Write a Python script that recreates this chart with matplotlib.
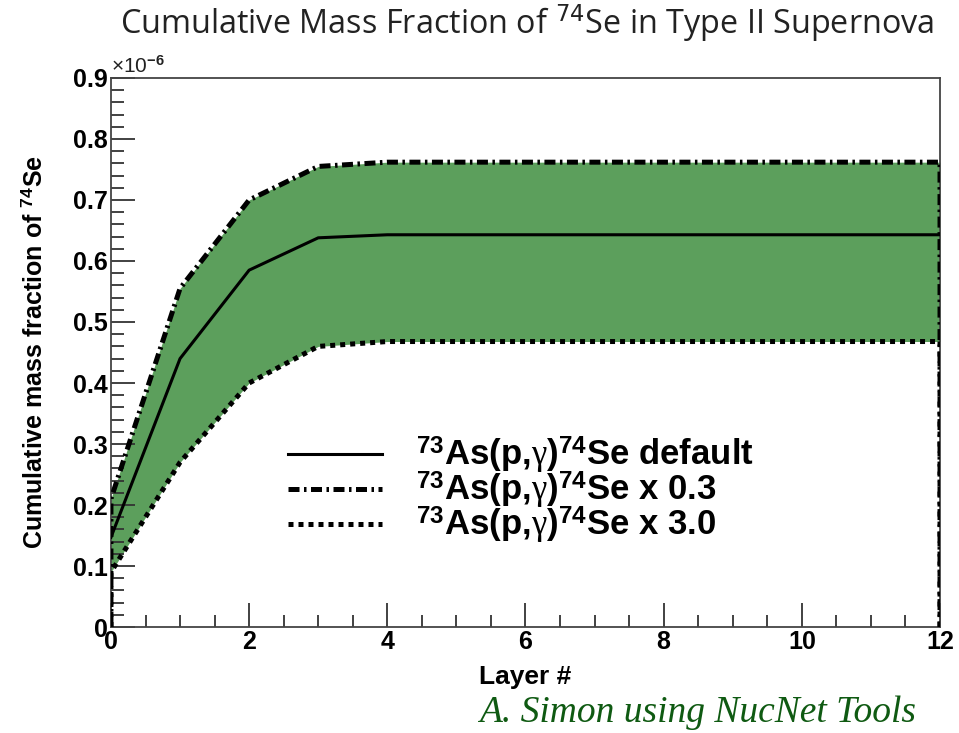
import matplotlib.pyplot as plt
from matplotlib.ticker import MultipleLocator, FuncFormatter

plt.rcParams['mathtext.fontset'] = 'custom'
plt.rcParams['mathtext.rm'] = 'Liberation Sans:bold'
plt.rcParams['mathtext.bf'] = 'Liberation Sans:bold'
plt.rcParams['mathtext.it'] = 'Liberation Serif'

# Data (in units of 1e-6)
layers = [0, 1, 2, 3, 4, 5, 6, 7, 8, 9, 10, 11, 12]
default = [0.147, 0.44, 0.585, 0.638, 0.643, 0.643, 0.643, 0.643, 0.643, 0.643, 0.643, 0.643, 0.643]
low_rate = [0.21, 0.555, 0.70, 0.755, 0.762, 0.762, 0.762, 0.762, 0.762, 0.762, 0.762, 0.762, 0.762]
high_rate = [0.09, 0.27, 0.40, 0.46, 0.468, 0.468, 0.468, 0.468, 0.468, 0.468, 0.468, 0.468, 0.468]

fig = plt.figure(figsize=(9.59, 7.33), dpi=100)
ax = fig.add_axes([0.1157, 0.1446, 0.8645, 0.749])

green = '#5c9f5c'
ax.fill_between(layers, high_rate, low_rate, color=green, lw=0, zorder=1)

# closed bound curves (ROOT style, go down to zero at ends)
xs = [0] + layers + [12]
ax.plot(xs, [0] + low_rate + [0], color='black', lw=3.6,
        dashes=(2.2, 0.9, 0.5, 0.9), label=r'$^{73}$As(p,$\gamma$)$^{74}$Se x 0.3', zorder=3)
ax.plot(xs, [0] + high_rate + [0], color='black', lw=3.6,
        dashes=(1.0, 1.0), label=r'$^{73}$As(p,$\gamma$)$^{74}$Se x 3.0', zorder=3)
ax.plot(layers, default, color='black', lw=2.2,
        label=r'$^{73}$As(p,$\gamma$)$^{74}$Se default', zorder=4)

ax.set_xlim(0, 12)
ax.set_ylim(0, 0.9)
ax.xaxis.set_major_locator(MultipleLocator(2))
ax.xaxis.set_minor_locator(MultipleLocator(0.5))
ax.yaxis.set_major_locator(MultipleLocator(0.1))
ax.yaxis.set_minor_locator(MultipleLocator(0.02))
ax.xaxis.set_major_formatter(FuncFormatter(lambda v, p: '%d' % round(v)))
ax.yaxis.set_major_formatter(FuncFormatter(lambda v, p: '0' if abs(v) < 1e-9 else '%.1f' % v))
ax.tick_params(which='both', direction='in', top=False, right=False, width=1.3, color='#333333')
ax.tick_params(which='major', length=17)
ax.tick_params(which='minor', length=9)
ax.tick_params(axis='both', labelsize=18, pad=2)
for lab in ax.get_xticklabels() + ax.get_yticklabels():
    lab.set_fontweight('bold')
    lab.set_family('Liberation Sans')
for sp in ax.spines.values():
    sp.set_color('#444444')
    sp.set_linewidth(1.3)

ax.set_xlabel('Layer #', fontsize=19, fontweight='bold', family='Liberation Sans', labelpad=8)
ax.set_ylabel(r'Cumulative mass fraction of $^{74}$Se', fontsize=18, fontweight='bold',
              family='Liberation Sans', labelpad=19)
ax.text(0.0, 1.003, r'×10$^{-6}$', transform=ax.transAxes, fontsize=15,
        family='Liberation Sans', va='bottom', ha='left', color='#222222')

handles, labels = ax.get_legend_handles_labels()
order = [2, 0, 1]
leg = ax.legend([handles[i] for i in order], [labels[i] for i in order],
                loc='upper left', bbox_to_anchor=(0.2135, 0.35), frameon=False,
                borderpad=0, borderaxespad=0,
                prop={'family': 'Liberation Sans', 'weight': 'bold', 'size': 25},
                handlelength=2.7, handletextpad=1.0, labelspacing=-0.17)

fig.text(0.55, 0.968, r'Cumulative Mass Fraction of $^{74}$Se in Type II Supernova',
         ha='center', va='center', fontsize=23.3, family='Open Sans', color='#222222',
         math_fontfamily='dejavusans')
fig.text(0.727, 0.028, 'A. Simon using NucNet Tools', ha='center', va='center',
         fontsize=27, family='Liberation Serif', style='italic', color='#0f5a12')

fig.savefig('out.png', dpi=100)
